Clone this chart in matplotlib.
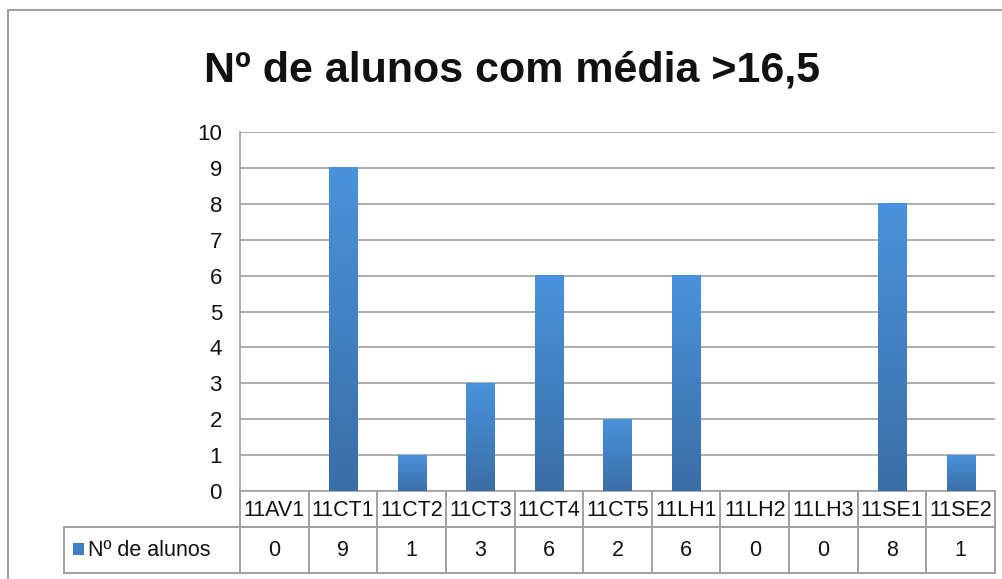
import matplotlib
matplotlib.use("Agg")
import matplotlib.pyplot as plt
import numpy as np
from matplotlib.lines import Line2D
from matplotlib.patches import Rectangle
import matplotlib.transforms as mtransforms
from matplotlib.colors import LinearSegmentedColormap

categories = ["11AV1", "11CT1", "11CT2", "11CT3", "11CT4", "11CT5", "11LH1", "11LH2", "11LH3", "11SE1", "11SE2"]
values = [0, 9, 1, 3, 6, 2, 6, 0, 0, 8, 1]
series_name = "Nº de alunos"
title = "Nº de alunos com média >16,5"
yticks = list(range(0, 11))

W, H = 1003, 579
fig = plt.figure(figsize=(W / 100, H / 100), dpi=100)
FONT = ["Liberation Sans", "DejaVu Sans"]
plt.rcParams['font.family'] = FONT

def fx(px):
    return px / W

def fy(py):
    return 1 - py / H

L, R, T, B = 240, 995, 132, 491
ax = fig.add_axes([fx(L), fy(B), fx(R) - fx(L), fy(T) - fy(B)])
n = len(categories)
x = np.arange(n)

bw = 0.41
grad = np.linspace(0, 1, 256).reshape(-1, 1)
cmap = LinearSegmentedColormap.from_list("g", ["#3a6ea6", "#4a92dc"])
for xi, v in zip(x, values):
    if v > 0:
        ax.imshow(grad, extent=(xi - bw / 2, xi + bw / 2, 0, v), origin="lower",
                  cmap=cmap, aspect="auto", zorder=3, interpolation="bilinear")
ax.set_xlim(-0.5, n - 0.5)
ax.set_ylim(0, 10)

ax.set_yticks(yticks)
ax.set_yticklabels([str(t) for t in yticks], fontsize=16, color="#111111")
ax.tick_params(axis="y", length=0, pad=13)
ax.set_xticks([])
ax.grid(axis="y", color="#a0a0a0", linewidth=1.2, zorder=1)
for s in ["top", "right"]:
    ax.spines[s].set_visible(False)
ax.spines["left"].set_color("#a0a0a0")
ax.spines["left"].set_linewidth(1.2)
ax.spines["bottom"].set_color("#a0a0a0")
ax.spines["bottom"].set_linewidth(1.2)

# data table below the axes
trans = mtransforms.blended_transform_factory(ax.transData, fig.transFigure)
row1_top, row1_bot, row2_bot = B, 527, 573
lc = "#a0a0a0"
lw = 1.4
for i in range(n + 1):
    xb = i - 0.5
    fig.add_artist(Line2D([xb, xb], [fy(row1_top), fy(row2_bot)], transform=trans, color=lc, lw=lw))
for yy in [row1_bot, row2_bot]:
    fig.add_artist(Line2D([fx(64), fx(R)], [fy(yy), fy(yy)], transform=fig.transFigure, color=lc, lw=lw))
fig.add_artist(Line2D([fx(64), fx(64)], [fy(row1_bot), fy(row2_bot)], transform=fig.transFigure, color=lc, lw=lw))
for i, (c, v) in enumerate(zip(categories, values)):
    fig.text(i, fy((row1_top + row1_bot) / 2 + 1), c, transform=trans, ha="center", va="center",
             fontsize=15.5, color="#111111")
    fig.text(i, fy((row1_bot + row2_bot) / 2 + 1), str(v), transform=trans, ha="center", va="center",
             fontsize=15.5, color="#111111")
# legend key
fig.add_artist(Rectangle((fx(73), fy(555)), fx(11), fy(543) - fy(555), transform=fig.transFigure,
                         facecolor="#3f7ec3", edgecolor="none"))
fig.text(fx(88), fy(551), series_name, ha="left", va="center", fontsize=15.5, color="#111111")

# title
fig.text(fx(512), fy(71), title, ha="center", va="center", fontsize=31, fontweight="bold", color="#111111")

# outer chart border
fig.add_artist(Line2D([fx(8), fx(8), fx(1003)], [fy(579), fy(10), fy(10)], transform=fig.transFigure,
                      color="#a0a0a0", lw=1.5))

fig.savefig("out.png", dpi=100)
